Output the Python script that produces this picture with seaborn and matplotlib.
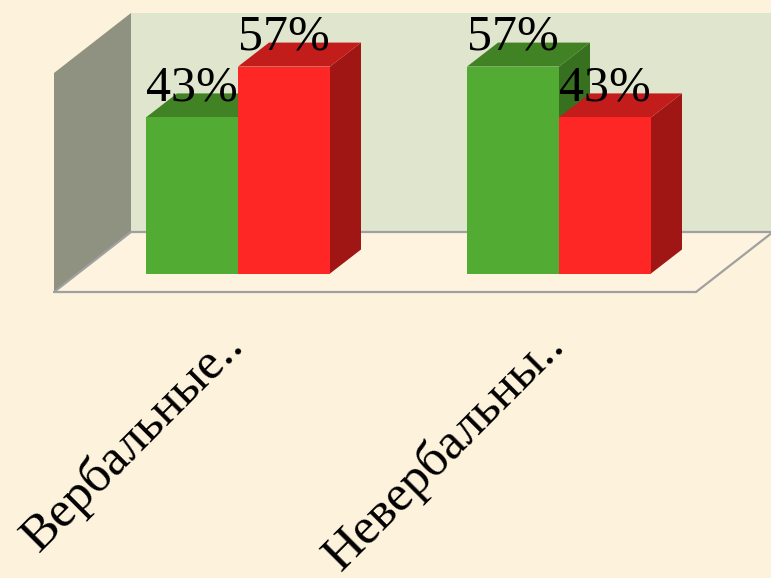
import matplotlib
matplotlib.use("Agg")
import matplotlib.pyplot as plt
from matplotlib.patches import Polygon, Rectangle
from matplotlib.transforms import Affine2D
import pandas as pd
import seaborn as sns

categories = ["Вербальные..", "Невербальны.."]
series_names = ["Да", "Нет"]
green_values = [43, 57]
red_values = [57, 43]
value_labels = [["43%", "57%"], ["57%", "43%"]]

W, H = 771, 578
BG = "#FDF2DC"
sns.set_theme(style="white")
plt.rcParams["font.family"] = ["Liberation Serif", "DejaVu Serif"]

fig = plt.figure(figsize=(W / 100, H / 100), dpi=100, facecolor=BG)
base_py, x0_px, x1_px, px_per_unit = 273.5, 238.0, 559.0, 3.63
ax = fig.add_axes([0, (H - base_py) / H, 1, base_py / H])
ax.patch.set_alpha(0)

df = pd.DataFrame({
    "category": categories * 2,
    "series": [series_names[0]] * 2 + [series_names[1]] * 2,
    "value": green_values + red_values,
})
sns.barplot(data=df, x="category", y="value", hue="series", order=categories,
            hue_order=series_names, palette=["#52AB32", "#FF2626"], width=184 / 321,
            saturation=1, dodge=True, legend=False, errorbar=None, ax=ax, zorder=10)

unit = x1_px - x0_px
ax.set_xlim(-x0_px / unit, (W - x0_px) / unit)
ax.set_ylim(0, base_py / px_per_unit)
ax.set_xlabel("")
ax.set_ylabel("")
ax.set_yticks([])
for s in ax.spines.values():
    s.set_visible(False)

px = Affine2D().scale(1, -1).translate(0, H)
bars = sorted([b for b in ax.patches if isinstance(b, Rectangle) and b.get_height() > 0],
              key=lambda b: b.get_x())


def poly(points, color, z, edge="none", lw=0):
    ax.add_patch(Polygon(points, closed=True, facecolor=color, edgecolor=edge, linewidth=lw,
                         transform=px, zorder=z, clip_on=False))


# Chart box: floor, back wall, side wall
poly([(54, 292), (131, 232), (W + 5, 232), (696, 292)], "#FEF3DF", 1)
poly([(131, 13), (W + 5, 13), (W + 5, 232), (131, 232)], "#E0E5CD", 1.5)
poly([(54, 73), (131, 13), (131, 232), (54, 292)], "#8F9280", 2)
for pts in ([(131, 232), (W + 5, 232)], [(54, 292), (696, 292)], [(696, 292), (773, 232)],
            [(54, 292), (131, 232)]):
    xs, ys = zip(*pts)
    ax.plot(xs, ys, color="#A0A0A0", lw=1.6, transform=px, zorder=3, clip_on=False)

# Depth faces, derived from each bar's own position
DX, DY = 31, -24
side = {"g": "#37701F", "r": "#A01614"}
top = {"g": "#418225", "r": "#C21C1B"}
to_px = ax.transData + px.inverted()
for i, bar in enumerate(bars):
    (xl, yb), (xr, yt) = to_px.transform([(bar.get_x(), 0),
                                          (bar.get_x() + bar.get_width(), bar.get_height())])
    key = "g" if i % 2 == 0 else "r"
    z = 5 + i
    poly([(xr, yt), (xr + DX, yt + DY), (xr + DX, yb + DY), (xr, yb)], side[key], z)
    poly([(xl, yt), (xl + DX, yt + DY), (xr + DX, yt + DY), (xr, yt)], top[key], z + 0.5)
    bar.set_zorder(z + 0.7)
    bar.set_edgecolor("none")
    lab = value_labels[i // 2][i % 2]
    t = ax.text((xl + xr) / 2, yt - 17, lab, transform=px, ha="center", va="baseline",
                fontsize=36, color="black", zorder=30, clip_on=True)
    t.set_clip_path(Rectangle((0, 0), W, H - 10))

# Axis labels
ax.set_xticks([0, 1])
ax.set_xticklabels(categories, rotation=45, ha="right", va="top", rotation_mode="anchor",
                   fontsize=37, color="black")
ax.tick_params(axis="x", length=0, pad=50)
for lb in ax.get_xticklabels():
    lb.set_transform(lb.get_transform() + Affine2D().translate(-19, 22))

fig.savefig("out.png", dpi=100, facecolor=BG)
